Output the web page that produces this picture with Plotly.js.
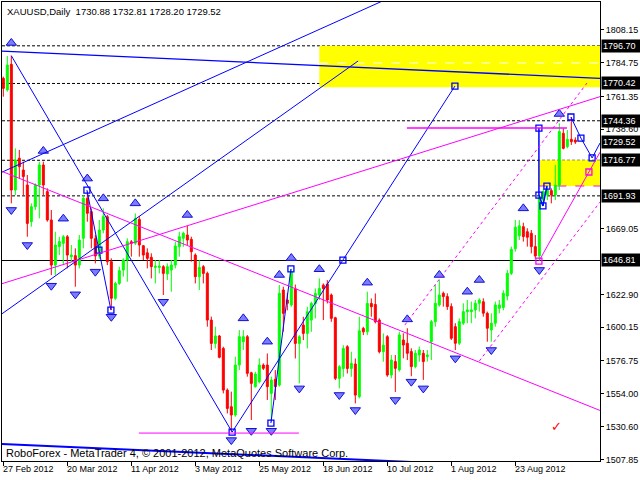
<!DOCTYPE html>
<html><head><meta charset="utf-8">
<script src="https://cdn.plot.ly/plotly-3.0.1.min.js"></script>
<style>html,body{margin:0;padding:0;background:#fff}#chart{width:640px;height:480px}</style>
</head><body><div id="chart"></div>
<script>
// ---- OHLC data (daily XAUUSD, bar index 0 = 27 Feb 2012) ----
const openP = [1774.0,1765.9,1783.8,1696.0,1718.2,1710.0,1699.5,1673.9,1684.4,1699.5,
1713.5,1694.9,1675.1,1643.6,1656.5,1658.8,1663.4,1649.5,1650.2,1643.6,
1662.3,1690.2,1680.9,1662.0,1650.0,1668.1,1677.4,1646.0,1620.4,1630.8,
1640.1,1647.1,1659.9,1658.8,1675.5,1657.1,1652.2,1649.0,1642.0,1642.0,
1642.5,1637.4,1640.1,1643.6,1656.4,1662.3,1664.6,1661.6,1650.6,1635.5,
1642.5,1637.8,1605.2,1588.9,1594.1,1585.4,1556.3,1544.7,1538.9,1573.8,
1590.1,1593.6,1568.4,1558.7,1562.2,1573.8,1573.8,1554.0,1563.8,1559.8,
1626.2,1619.2,1615.7,1627.0,1588.9,1601.7,1595.9,1605.2,1616.8,1622.7,
1629.6,1630.3,1622.7,1606.8,1564.5,1571.4,1586.6,1571.4,1574.5,1551.7,
1599.4,1597.0,1616.8,1616.1,1605.2,1583.1,1593.6,1566.8,1576.2,1570.4,
1591.3,1589.0,1583.2,1572.7,1580.8,1582.0,1579.7,1590.1,1604.1,1615.8,
1623.9,1621.6,1614.6,1600.6,1589.0,1603.0,1611.1,1611.1,1612.3,1616.9,
1618.0,1609.9,1598.3,1603.0,1613.4,1614.0,1622.0,1637.8,1655.0,1664.0,
1670.4,1666.9,1665.8,1656.5,1650.0,1689.0,1692.6,1695.6,1692.6,1699.5,
1735.6,1726.3,1731.4,1730.88];
const highP = [1775.2,1789.6,1789.8,1725.1,1724.0,1715.8,1706.5,1686.7,1700.7,1715.8,
1715.8,1697.2,1682.1,1666.9,1663.4,1664.6,1664.6,1657.6,1655.3,1664.6,
1692.5,1694.9,1683.2,1664.6,1675.1,1683.2,1678.6,1648.3,1632.0,1642.5,
1648.3,1662.3,1661.1,1679.7,1677.9,1657.6,1655.3,1651.8,1647.1,1647.1,
1643.6,1644.8,1647.1,1659.9,1666.9,1666.9,1671.1,1663.4,1651.8,1647.1,
1643.6,1639.0,1607.6,1600.6,1594.8,1586.6,1557.5,1555.2,1579.6,1598.2,
1598.2,1594.8,1569.1,1569.1,1578.5,1575.0,1581.9,1565.7,1570.3,1629.7,
1628.5,1624.0,1640.9,1630.0,1594.7,1607.5,1614.5,1618.0,1627.3,1634.3,
1630.8,1633.1,1623.8,1607.5,1573.8,1587.7,1587.7,1583.1,1578.4,1607.5,
1600.5,1625.0,1620.3,1623.8,1606.4,1595.9,1594.7,1580.8,1580.8,1597.1,
1596.0,1599.5,1585.5,1584.3,1586.7,1584.3,1584.3,1605.3,1629.7,1633.2,
1625.1,1623.9,1616.9,1603.0,1606.4,1616.9,1619.2,1618.1,1619.2,1620.4,
1620.4,1611.1,1609.9,1618.1,1619.2,1626.0,1640.2,1656.5,1675.1,1675.0,
1673.2,1669.3,1668.1,1664.6,1692.6,1697.0,1698.8,1697.2,1713.5,1742.6,
1739.1,1737.9,1746.9,1732.81];
const lowP = [1761.2,1764.7,1686.7,1692.5,1704.2,1692.5,1663.4,1670.4,1682.1,1676.2,
1692.5,1673.9,1636.6,1636.6,1650.6,1643.6,1641.3,1646.0,1628.5,1641.3,
1655.3,1673.9,1655.3,1644.8,1648.0,1665.8,1643.6,1612.2,1619.2,1629.7,
1635.5,1632.0,1649.5,1657.6,1649.5,1647.1,1641.3,1634.3,1630.8,1637.8,
1622.7,1633.2,1625.0,1641.3,1649.5,1656.4,1657.6,1646.0,1630.8,1626.2,
1630.8,1600.6,1584.3,1585.4,1578.5,1554.0,1540.0,1527.5,1537.7,1570.3,
1584.3,1565.7,1535.4,1558.0,1561.0,1570.3,1549.4,1534.2,1549.4,1558.7,
1597.1,1612.0,1614.5,1578.4,1561.0,1591.2,1585.4,1597.0,1606.4,1619.2,
1605.2,1616.8,1604.0,1563.3,1557.5,1565.6,1567.9,1565.6,1547.0,1550.5,
1594.7,1594.7,1607.5,1602.9,1581.9,1576.1,1565.6,1564.5,1555.0,1569.2,
1578.5,1577.3,1566.0,1571.5,1576.2,1563.4,1576.2,1577.3,1600.6,1614.6,
1614.6,1612.3,1591.3,1584.3,1587.8,1601.8,1603.0,1603.0,1606.4,1611.1,
1607.6,1590.1,1590.1,1600.6,1610.0,1612.0,1619.0,1636.7,1653.0,1661.1,
1660.0,1656.5,1651.8,1648.0,1646.8,1684.9,1689.0,1686.7,1689.1,1696.0,
1724.4,1725.1,1727.5,1728.20];
const closeP = [1767.0,1783.3,1696.0,1717.0,1712.3,1705.4,1672.7,1684.4,1699.5,1713.5,
1699.5,1675.1,1643.6,1657.6,1660.0,1663.4,1650.6,1650.6,1643.6,1661.1,
1690.2,1679.8,1662.3,1650.0,1668.1,1677.4,1646.0,1620.4,1630.8,1639.7,
1647.1,1659.9,1658.8,1676.2,1657.6,1650.6,1648.3,1642.5,1642.9,1642.9,
1637.8,1642.5,1643.6,1656.9,1663.4,1665.8,1661.1,1652.9,1635.5,1642.0,
1637.8,1605.2,1588.9,1594.1,1579.2,1556.3,1543.5,1538.9,1573.8,1593.6,
1593.6,1568.0,1561.0,1567.5,1573.8,1571.5,1558.7,1563.3,1558.7,1623.9,
1609.9,1616.9,1639.0,1588.9,1593.6,1595.9,1611.0,1616.8,1623.8,1627.3,
1627.3,1619.2,1606.4,1564.5,1572.6,1585.4,1571.4,1574.9,1552.8,1597.7,
1597.0,1616.8,1614.5,1604.0,1583.1,1587.7,1566.8,1577.3,1571.5,1594.8,
1587.8,1582.0,1572.7,1582.0,1584.3,1576.2,1580.8,1604.1,1616.9,1622.7,
1621.6,1614.6,1592.5,1589.0,1604.1,1611.1,1612.3,1612.3,1616.9,1619.2,
1610.0,1599.5,1603.0,1615.8,1615.8,1623.9,1637.8,1654.6,1670.0,1671.0,
1663.5,1663.0,1656.5,1650.0,1691.4,1694.9,1696.0,1692.6,1699.5,1736.8,
1725.1,1731.4,1729.8,1729.52];
const barIdx = openP.map((_, i) => i);

// ---- axis labels ----
const dateTickIdx = [0,16,32,48,64,80,96,112,128];
const dateTickText = ["27 Feb 2012","20 Mar 2012","11 Apr 2012","3 May 2012","25 May 2012","18 Jun 2012","10 Jul 2012","1 Aug 2012","23 Aug 2012"];
const priceTicks = [1808.15,1784.75,1761.35,1738.60,1669.05,1622.90,1600.15,1576.75,1554.00,1530.60,1507.85];
const markedPrices = [1796.70,1770.42,1744.36,1729.52,1716.77,1691.93,1646.81];

// ---- horizontal levels and zones ----
const dashedLevels = [1796.70,1770.42,1744.36,1716.77,1691.93];
const solidLevel = 1646.81;
const upperZoneK = [79, 149.17], upperZoneP = [1767.7, 1796.70];
const lowerZoneK = [134, 149.17], lowerZoneP = [1698.8, 1716.77];
const zoneMidK = [79, 149.17], zoneMidP = 1784.75;

// ---- blue trend lines ----
const chanTopK = [-0.33, 149.17], chanTopP = [1793.0, 1774.0];
const chanBotK = [-0.33, 149.17], chanBotP = [1518.7, 1500.3];
const rayAK = [-0.33, 88.7], rayAP = [1609.6, 1786.1];
const rayBK = [-0.33, 110], rayBP = [1708.5, 1847.1];
const zzAK = [2, 57.2], zzAP = [1789.8, 1527.0];
const zzBK = [20.9, 26.9], zzBP = [1696.0, 1612.2];
const zzCK = [57.2, 112.9], zzCP = [1527.0, 1768.6];
const zzDK = [66.9, 71.9], zzDP = [1533.3, 1640.9];
const zzEK = [133.9, 133.9, 134.9, 135.9], zzEP = [1739.3, 1692.5, 1684.9, 1698.8];
const zzFK = [141.9, 144.4, 147.2, 149.17], zzFP = [1747.0, 1732.3, 1718.4, 1728.8];

// ---- magenta lines ----
const magDownK = [-0.33, 149.17], magDownP = [1709.0, 1542.1];
const magUpK = [-0.33, 149.17], magUpP = [1630.6, 1761.2];
const magHiK = [100.9, 140.9], magHiP = 1739.3;
const magLoK = [33.9, 73.9], magLoP = 1526.3;
const magRayK = [133.9, 146.4, 149.17], magRayP = [1646.4, 1708.6, 1722.4];
const dotAK = [100.4, 145.9], dotAP = [1601.8, 1770.7];
const dotBK = [119, 149.17], dotBP = [1576.6, 1687.6];

// ---- anchor boxes ----
const blueBoxK = [20.9,23.9,26.9,57.2,66.9,71.9,84.9,112.9,133.9,133.9,134.9,135.9,141.9,144.4,147.2];
const blueBoxP = [1696.0,1654.1,1612.2,1527.0,1533.3,1640.9,1647.1,1768.6,1739.3,1692.5,1684.9,1698.8,1747.0,1732.3,1718.4];
const magBoxK = [133.9, 146.4], magBoxP = [1646.4, 1708.6];

// ---- fractal arrows ----
const upArrowK = [2,10,15,21,25,33,46,60,66,69,72,79,91,101,109,116,119,130,139];
const upArrowP = [1798.7,1723.3,1676.0,1704.0,1690.2,1686.7,1678.6,1606.4,1590.1,1636.7,1648.5,1640.7,1631.3,1605.7,1636.7,1625.0,1633.2,1683.2,1749.1];
const dnArrowK = [2,6,12,18,23,27,40,57,62,67,74,84,88,98,102,105,113,122,134];
const dnArrowP = [1682.1,1657.6,1629.2,1623.2,1639.0,1607.5,1618.0,1521.4,1527.9,1527.9,1557.5,1552.9,1542.4,1549.4,1562.2,1557.5,1578.5,1584.3,1640.2];
const checkK = 138.4, checkP = 1531.2;

const FONT = "Liberation Sans, Arial, sans-serif";
const BLUE = "#0000ff", MAG = "#ff00ff";

const shapes = [];
function seg(k0, p0, k1, p1, color, width, dash, layer) {
  shapes.push({type:'line', xref:'x', yref:'y', x0:k0, y0:p0, x1:k1, y1:p1,
    line:{color:color, width:width, dash:dash||'solid'}, layer:layer||'above'});
}
function poly(ks, ps, color, width, dash, layer) {
  for (let i = 0; i < ks.length - 1; i++) seg(ks[i], ps[i], ks[i+1], ps[i+1], color, width, dash, layer);
}
// zones
shapes.push({type:'rect', xref:'x', yref:'y', x0:upperZoneK[0], x1:upperZoneK[1], y0:upperZoneP[0], y1:upperZoneP[1], fillcolor:'#ffff00', line:{width:0}, layer:'below'});
shapes.push({type:'rect', xref:'x', yref:'y', x0:lowerZoneK[0], x1:lowerZoneK[1], y0:lowerZoneP[0], y1:lowerZoneP[1], fillcolor:'#ffff00', line:{width:0}, layer:'below'});
seg(zoneMidK[0], zoneMidP, zoneMidK[1], zoneMidP, '#ffffff', 1, 'dash', 'below');
seg(lowerZoneK[0], lowerZoneP[0], lowerZoneK[1], lowerZoneP[0], MAG, 1, 'dash', 'below');
// levels
dashedLevels.forEach(v => shapes.push({type:'line', xref:'paper', yref:'y', x0:0, x1:1, y0:v, y1:v, line:{color:'#000', width:1, dash:'3px,2px'}, layer:'below'}));
shapes.push({type:'line', xref:'paper', yref:'y', x0:0, x1:1, y0:solidLevel, y1:solidLevel, line:{color:'#000', width:1}, layer:'below'});
// blue lines
poly(chanTopK, chanTopP, BLUE, 1.3);
poly(chanBotK, chanBotP, BLUE, 2);
poly(rayAK, rayAP, BLUE, 1);
poly(rayBK, rayBP, BLUE, 1);
poly(zzAK, zzAP, BLUE, 1);
poly(zzBK, zzBP, BLUE, 1);
poly(zzCK, zzCP, BLUE, 1);
poly(zzDK, zzDP, BLUE, 1);
poly(zzEK, zzEP, BLUE, 1.5);
poly(zzFK, zzFP, BLUE, 1);
// magenta lines
poly(magDownK, magDownP, MAG, 1);
poly(magUpK, magUpP, MAG, 1);
seg(magHiK[0], magHiP, magHiK[1], magHiP, MAG, 1.5);
seg(magLoK[0], magLoP, magLoK[1], magLoP, MAG, 1);
poly(magRayK, magRayP, MAG, 1);
poly(dotAK, dotAP, MAG, 1, 'dot');
poly(dotBK, dotBP, MAG, 1, 'dot');

const traces = [
  {type:'candlestick', x:barIdx, open:openP, high:highP, low:lowP, close:closeP,
   increasing:{line:{color:'#00ff00', width:1}, fillcolor:'#00ff00'},
   decreasing:{line:{color:'#ff0000', width:1}, fillcolor:'#ff0000'},
   whiskerwidth:0, hoverinfo:'skip', showlegend:false},
  {type:'scatter', mode:'markers', x:upArrowK, y:upArrowP, hoverinfo:'skip',
   marker:{symbol:'triangle-up', size:9, color:'#7c7cff', line:{color:'#1010d0', width:1}}},
  {type:'scatter', mode:'markers', x:dnArrowK, y:dnArrowP, hoverinfo:'skip',
   marker:{symbol:'triangle-down', size:9, color:'#7c7cff', line:{color:'#1010d0', width:1}}},
  {type:'scatter', mode:'markers', x:blueBoxK, y:blueBoxP, hoverinfo:'skip',
   marker:{symbol:'square-open', size:6, color:BLUE, line:{color:BLUE, width:1.3}}},
  {type:'scatter', mode:'markers', x:magBoxK, y:magBoxP, hoverinfo:'skip',
   marker:{symbol:'square-open', size:6, color:MAG, line:{color:MAG, width:1.3}}}
];

const annotations = [];
markedPrices.forEach(v => annotations.push({xref:'paper', x:1, xanchor:'left', xshift:1,
  yref:'y', y:v, yanchor:'middle', text:v.toFixed(2), showarrow:false, bgcolor:'#000',
  borderpad:1, width:38, align:'left', font:{family:FONT, size:9, color:'#fff'}}));
dateTickIdx.forEach((k, i) => annotations.push({xref:'x', x:k, xanchor:'left', xshift:-2,
  yref:'paper', y:0, yanchor:'top', yshift:-1, text:dateTickText[i], showarrow:false,
  font:{family:FONT, size:9, color:'#000'}}));
annotations.push({xref:'paper', x:0, xanchor:'left', xshift:3, yref:'paper', y:1, yanchor:'top', yshift:-2,
  text:'XAUUSD,Daily\u00a0\u00a01730.88 1732.81 1728.20 1729.52', showarrow:false,
  font:{family:FONT, size:9.5, color:'#000'}});
annotations.push({xref:'paper', x:0, xanchor:'left', xshift:2, yref:'paper', y:0, yanchor:'bottom', yshift:0,
  text:'RoboForex - MetaTrader 4, \u00a9 2001-2012, MetaQuotes Software Corp.', showarrow:false,
  font:{family:FONT, size:11, color:'#000'}});
annotations.push({xref:'x', x:checkK, yref:'y', y:checkP, text:'\u2713', showarrow:false,
  font:{family:'DejaVu Sans, sans-serif', size:13, color:'#ff0000'}});

const layout = {
  width:640, height:480,
  margin:{l:2, r:40, t:2, b:19, pad:0},
  paper_bgcolor:'#fff', plot_bgcolor:'#fff',
  showlegend:false,
  font:{family:FONT, size:9, color:'#000'},
  xaxis:{range:[-0.33, 149.17], rangeslider:{visible:false}, tickvals:dateTickIdx,
    ticks:'outside', ticklen:4, tickcolor:'#000', showticklabels:false,
    showgrid:false, zeroline:false, showline:true, mirror:true, linecolor:'#000', linewidth:1, fixedrange:true},
  yaxis:{side:'right', range:[1506.8, 1827.3], tickvals:priceTicks,
    ticktext:priceTicks.map(v => v.toFixed(2)), ticks:'outside', ticklen:3, tickcolor:'#000',
    tickfont:{family:FONT, size:9, color:'#000'},
    showgrid:false, zeroline:false, showline:true, mirror:true, linecolor:'#000', linewidth:1, fixedrange:true},
  shapes:shapes, annotations:annotations
};

Plotly.newPlot('chart', traces, layout, {displayModeBar:false, staticPlot:true});
</script></body></html>
